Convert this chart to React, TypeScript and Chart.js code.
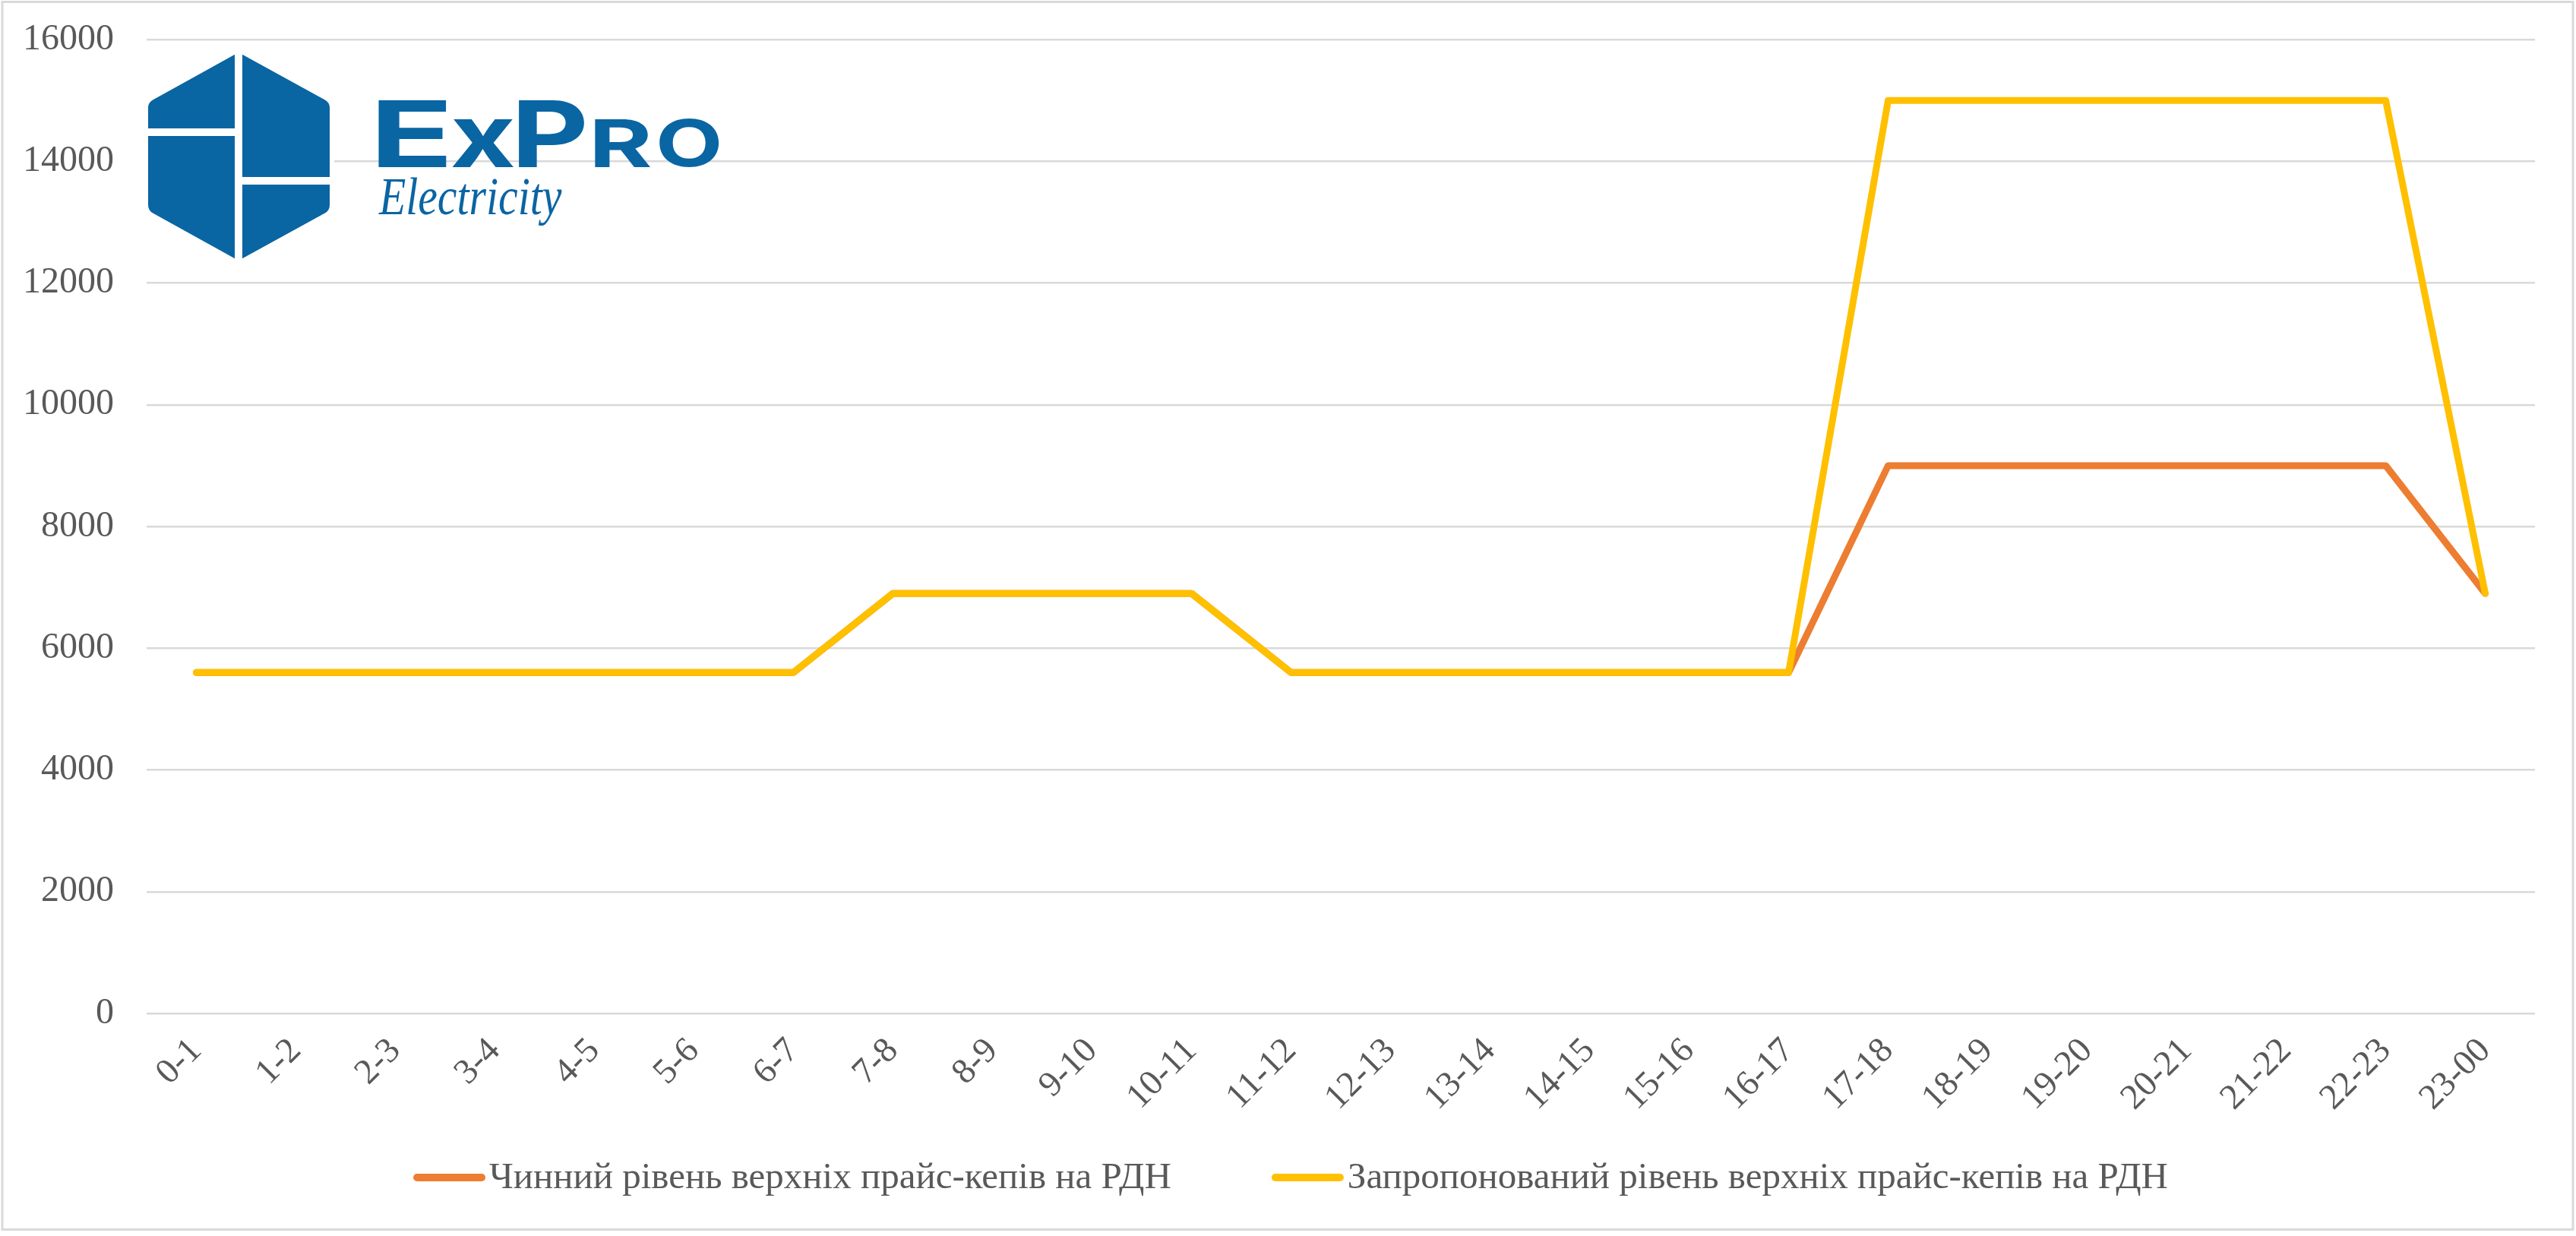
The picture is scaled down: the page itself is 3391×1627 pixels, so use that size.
import React, { useEffect, useRef } from "react";
import { Chart, registerables } from "chart.js";

Chart.register(...registerables);

const categories = [
  "0-1", "1-2", "2-3", "3-4", "4-5", "5-6", "6-7", "7-8", "8-9", "9-10", "10-11", "11-12",
  "12-13", "13-14", "14-15", "15-16", "16-17", "17-18", "18-19", "19-20", "20-21", "21-22", "22-23", "23-00",
];

const currentCaps = [
  5600, 5600, 5600, 5600, 5600, 5600, 5600, 6900, 6900, 6900, 6900, 5600,
  5600, 5600, 5600, 5600, 5600, 9000, 9000, 9000, 9000, 9000, 9000, 6900,
];

const proposedCaps = [
  5600, 5600, 5600, 5600, 5600, 5600, 5600, 6900, 6900, 6900, 6900, 5600,
  5600, 5600, 5600, 5600, 5600, 15000, 15000, 15000, 15000, 15000, 15000, 6900,
];

const seriesNames = [
  "Чинний рівень верхніх прайс-кепів на РДН",
  "Запропонований рівень верхніх прайс-кепів на РДН",
];

const seriesColors = ["#ED7D31", "#FFC000"];

const yTicks = { min: 0, max: 16000, step: 2000 };

const W = 3391;
const H = 1627;
const TEXT = "#595959";
const GRID = "#D9D9D9";
const SERIF = "'Liberation Serif', 'Times New Roman', serif";
const LOGO_BLUE = "#0A65A3";

function fitText(
  ctx: CanvasRenderingContext2D,
  text: string,
  font: string,
  x0: number,
  y0: number,
  x1: number,
  y1: number
) {
  ctx.save();
  ctx.font = font;
  ctx.textAlign = "left";
  ctx.textBaseline = "alphabetic";
  const m = ctx.measureText(text);
  const inkW = m.actualBoundingBoxLeft + m.actualBoundingBoxRight;
  const inkH = m.actualBoundingBoxAscent + m.actualBoundingBoxDescent;
  const sx = (x1 - x0) / inkW;
  const sy = (y1 - y0) / inkH;
  ctx.translate(x0 + m.actualBoundingBoxLeft * sx, y0 + m.actualBoundingBoxAscent * sy);
  ctx.scale(sx, sy);
  ctx.fillText(text, 0, 0);
  ctx.restore();
}

const decorPlugin = {
  id: "decor",
  beforeDraw(chart: any) {
    const ctx = chart.ctx as CanvasRenderingContext2D;
    ctx.save();
    ctx.fillStyle = "#FFFFFF";
    ctx.fillRect(0, 0, chart.width, chart.height);
    ctx.strokeStyle = GRID;
    ctx.lineWidth = 3;
    ctx.strokeRect(3, 2.5, 3384, 1616);
    ctx.restore();
  },
  afterDraw(chart: any) {
    const ctx = chart.ctx as CanvasRenderingContext2D;
    // ---- logo ----
    ctx.save();
    ctx.fillStyle = "#FFFFFF";
    ctx.fillRect(190, 64, 250, 284);
    ctx.fillStyle = LOGO_BLUE;
    const pts: [number, number][] = [
      [314, 69],
      [434, 135],
      [434, 277],
      [314, 343],
      [195, 277],
      [195, 135],
    ];
    const radii = [0, 12, 12, 0, 12, 12];
    ctx.beginPath();
    const n = pts.length;
    const mid = (a: [number, number], b: [number, number]): [number, number] => [(a[0] + b[0]) / 2, (a[1] + b[1]) / 2];
    const start = mid(pts[n - 1], pts[0]);
    ctx.moveTo(start[0], start[1]);
    for (let i = 0; i < n; i++) {
      const p = pts[i];
      const q = pts[(i + 1) % n];
      if (radii[i] > 0) ctx.arcTo(p[0], p[1], q[0], q[1], radii[i]);
      else ctx.lineTo(p[0], p[1]);
    }
    ctx.closePath();
    ctx.fill();
    ctx.fillStyle = "#FFFFFF";
    ctx.fillRect(309, 60, 10, 290);
    ctx.fillRect(188, 169, 122, 10);
    ctx.fillRect(318, 233, 122, 10);

    ctx.fillStyle = LOGO_BLUE;
    const bold = "700 120px Inter, 'Open Sans', sans-serif";
    const boldSmall = "700 90px Inter, 'Open Sans', sans-serif";
    fitText(ctx, "E", bold, 497, 132, 588, 220);
    fitText(ctx, "x", bold, 595, 157, 677, 220);
    fitText(ctx, "P", bold, 682, 132, 770, 220);
    fitText(ctx, "R", boldSmall, 782, 157, 857, 220);
    fitText(ctx, "O", boldSmall, 868, 157, 947, 220);
    fitText(ctx, "Electricity", "italic 64px 'Liberation Serif', serif", 498, 233, 740, 297);
    ctx.restore();

    // ---- legend ----
    ctx.save();
    ctx.font = `49px ${SERIF}`;
    ctx.textBaseline = "alphabetic";
    ctx.textAlign = "left";
    const lineLen = 95;
    const gapText = 5;
    const gapItems = 132;
    const widths = seriesNames.map((s) => ctx.measureText(s).width);
    const total = widths.reduce((a, w) => a + lineLen + gapText + w, 0) + gapItems * (seriesNames.length - 1);
    let x = 1699 - total / 2;
    const yLine = 1550;
    seriesNames.forEach((name, i) => {
      ctx.strokeStyle = seriesColors[i];
      ctx.lineWidth = 10;
      ctx.lineCap = "round";
      ctx.beginPath();
      ctx.moveTo(x + 5, yLine);
      ctx.lineTo(x + lineLen - 5, yLine);
      ctx.stroke();
      ctx.fillStyle = TEXT;
      ctx.fillText(name, x + lineLen + gapText, 1564);
      x += lineLen + gapText + widths[i] + gapItems;
    });
    ctx.restore();
  },
};

export default function App() {
  const canvasRef = useRef<HTMLCanvasElement | null>(null);

  useEffect(() => {
    document.body.style.margin = "0";
    const canvas = canvasRef.current;
    if (!canvas) return;
    const chart = new Chart(canvas, {
      type: "line",
      data: {
        labels: categories,
        datasets: [
          {
            label: seriesNames[0],
            data: currentCaps,
            borderColor: seriesColors[0],
            backgroundColor: seriesColors[0],
            borderWidth: 9,
            pointRadius: 0,
            pointHoverRadius: 0,
            tension: 0,
            borderJoinStyle: "round",
            borderCapStyle: "round",
            order: 2,
          },
          {
            label: seriesNames[1],
            data: proposedCaps,
            borderColor: seriesColors[1],
            backgroundColor: seriesColors[1],
            borderWidth: 9,
            pointRadius: 0,
            pointHoverRadius: 0,
            tension: 0,
            borderJoinStyle: "round",
            borderCapStyle: "round",
            order: 1,
          },
        ],
      },
      options: {
        animation: false,
        responsive: false,
        maintainAspectRatio: false,
        devicePixelRatio: 1,
        layout: { padding: { top: 52, right: 54, left: 0, bottom: 0 } },
        plugins: {
          legend: { display: false },
          tooltip: { enabled: false },
        },
        scales: {
          x: {
            type: "category",
            offset: true,
            grid: { display: false, drawTicks: false },
            border: { display: false },
            ticks: {
              autoSkip: false,
              minRotation: 45,
              maxRotation: 45,
              padding: 22,
              color: TEXT,
              font: { family: SERIF, size: 47 },
            },
            afterFit: (scale: any) => {
              scale.height = H - 1334;
            },
          },
          y: {
            min: yTicks.min,
            max: yTicks.max,
            grid: { color: GRID, lineWidth: 2.5, drawTicks: true, tickLength: 43, tickColor: "rgba(0,0,0,0)" },
            border: { display: false },
            ticks: {
              stepSize: yTicks.step,
              padding: 0,
              color: TEXT,
              font: { family: SERIF, size: 48 },
              callback: (v: any) => String(v),
            },
            afterFit: (scale: any) => {
              scale.width = 193;
            },
          },
        },
      },
      plugins: [decorPlugin],
    });
    return () => chart.destroy();
  }, []);

  return (
    <div style={{ position: "fixed", left: 0, top: 0, width: W, height: H, background: "#fff" }}>
      <canvas ref={canvasRef} width={W} height={H} style={{ width: W, height: H, display: "block" }} />
    </div>
  );
}
